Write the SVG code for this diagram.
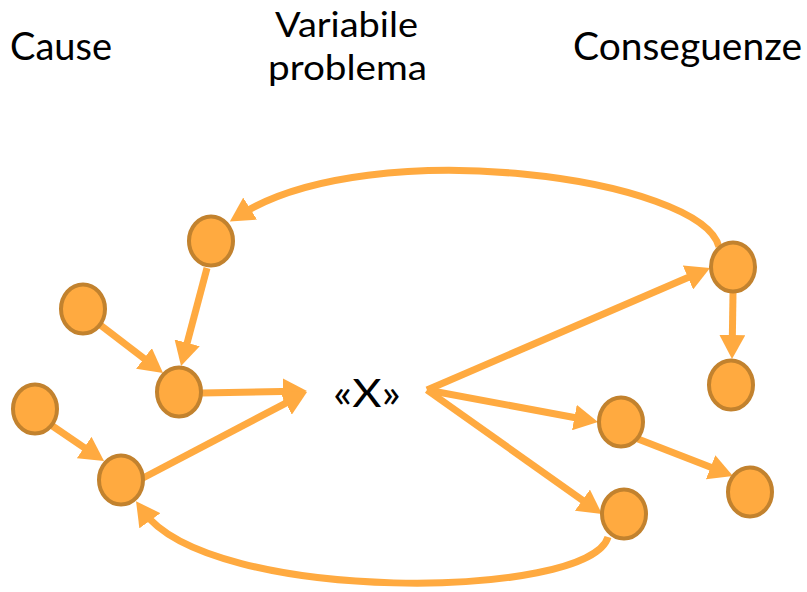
<svg xmlns="http://www.w3.org/2000/svg" width="807" height="592" viewBox="0 0 807 592">
<style>
.t{font-family:"Gill Sans","Lato","Liberation Sans",sans-serif;font-size:38px;fill:#000}
.s{font-size:35.5px}
.n{fill:#FFAA40;stroke:#C2822E;stroke-width:4}
.c{fill:none;stroke:#FFAA40;stroke-width:7;marker-end:url(#ah)}
</style>
<defs>
<marker id="ah" markerUnits="userSpaceOnUse" viewBox="0 0 24 26" refX="12" refY="13" markerWidth="24" markerHeight="26" orient="auto">
<path d="M0,0 L24,13 L0,26 z" fill="#FFAA40"/>
</marker>
</defs>
<rect width="807" height="592" fill="#fff"/>
<g id="labels">
<text class="t" x="10" y="60" textLength="102" lengthAdjust="spacingAndGlyphs">Cause</text>
<text class="t s" x="275" y="37" textLength="143" lengthAdjust="spacingAndGlyphs">Variabile</text>
<text class="t s" x="268" y="80" textLength="159" lengthAdjust="spacingAndGlyphs">problema</text>
<text class="t" x="573" y="60" textLength="229" lengthAdjust="spacingAndGlyphs">Conseguenze</text>
</g>
<g id="connectors">
<line class="c" x1="207" y1="268" x2="184.1" y2="354.4"/>
<line class="c" x1="99" y1="324" x2="153.5" y2="365.7"/>
<line class="c" x1="202" y1="393" x2="295" y2="391.2"/>
<line class="c" x1="143" y1="478" x2="296.4" y2="397.6"/>
<line class="c" x1="51" y1="425" x2="94.1" y2="454.3"/>
<line class="c" x1="427" y1="390" x2="699" y2="272.8"/>
<line class="c" x1="427" y1="390" x2="586.2" y2="419.8"/>
<line class="c" x1="427" y1="390" x2="592.2" y2="507.1"/>
<line class="c" x1="733" y1="293" x2="732.2" y2="347"/>
<line class="c" x1="638" y1="439" x2="721.8" y2="471.6"/>
<path class="c" d="M719,247 C702,178 372,132 240,215"/>
<path class="c" d="M608,537 C590,600 210,605 143,511"/>
</g>
<g id="node-X"><text class="t" x="333" y="407" textLength="68" lengthAdjust="spacingAndGlyphs">«X»</text></g>
<g id="node-A"><ellipse class="n" cx="211" cy="241" rx="22" ry="24.5"/></g>
<g id="node-B"><ellipse class="n" cx="83" cy="309" rx="22" ry="24.5"/></g>
<g id="node-C"><ellipse class="n" cx="179" cy="392" rx="22" ry="24.5"/></g>
<g id="node-D"><ellipse class="n" cx="35" cy="409" rx="22" ry="24.5"/></g>
<g id="node-E"><ellipse class="n" cx="121" cy="480" rx="22" ry="24.5"/></g>
<g id="node-F"><ellipse class="n" cx="733" cy="267" rx="22" ry="24.5"/></g>
<g id="node-G"><ellipse class="n" cx="731" cy="385" rx="22" ry="24.5"/></g>
<g id="node-H"><ellipse class="n" cx="621" cy="422" rx="22" ry="24.5"/></g>
<g id="node-I"><ellipse class="n" cx="750" cy="492" rx="22" ry="24.5"/></g>
<g id="node-J"><ellipse class="n" cx="624" cy="514" rx="22" ry="24.5"/></g>
</svg>
